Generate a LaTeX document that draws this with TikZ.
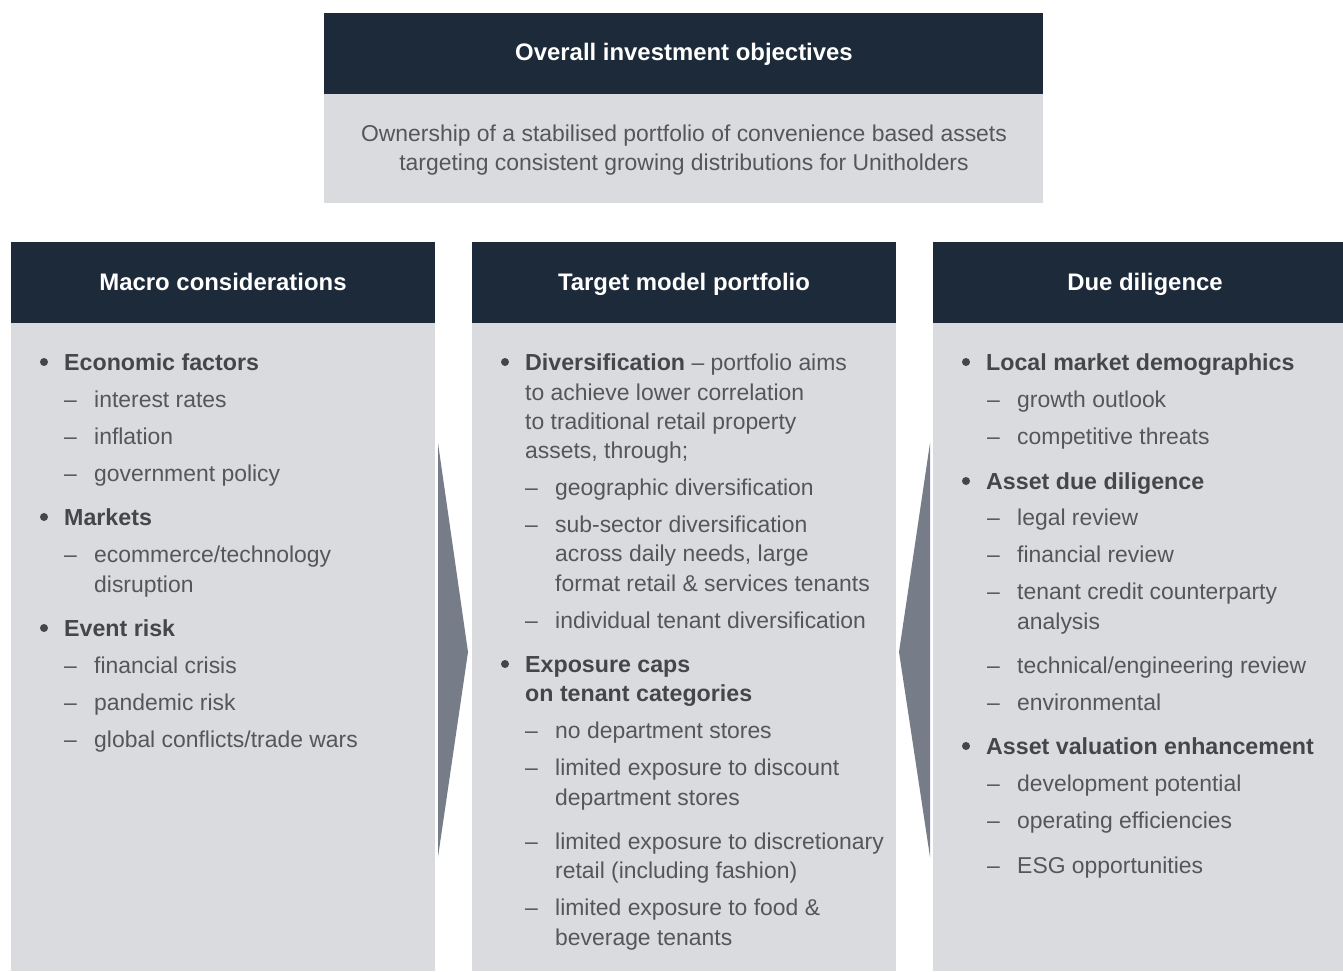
\documentclass[tikz,border=0pt]{standalone}
\usepackage{fontspec}
\setmainfont{Liberation Sans}
\definecolor{navy}{HTML}{1D2A3A}
\definecolor{panel}{HTML}{D9DBDF}
\definecolor{arrowc}{HTML}{767D89}
\definecolor{txtc}{HTML}{56565A}
\definecolor{boldc}{HTML}{45464A}
\newcounter{tlc}
\newcommand\tline[3]{\stepcounter{tlc}\node[txt] (t\arabic{tlc}) at (#1,#2+8) {#3};}
\newcommand\bul[4]{\stepcounter{tlc}\node[bulst] (b\arabic{tlc}) at (#1-20,#2) {};\node[txt,text=boldc,font=\fontsize{23.3}{28}\selectfont\bfseries] (t\arabic{tlc}) at (#1,#2+8) {#4};}
\newcommand\dsh[3]{\stepcounter{tlc}\node[txt] (d\arabic{tlc}) at (#1-30,#2+8) {–};\node[txt] (t\arabic{tlc}) at (#1,#2+8) {#3};}
\begin{document}
\begin{tikzpicture}[x=1bp,y=-1bp,
  txt/.style={anchor=base west,inner sep=0pt,text=txtc,font=\fontsize{23}{28}\selectfont},
  bulst/.style={circle,fill=boldc,inner sep=0pt,minimum size=8bp,anchor=center},
  hdr/.style={anchor=base,inner sep=0pt,text=white,font=\fontsize{24}{29}\selectfont\bfseries},
  head/.style={fill=navy,draw=none},
  body/.style={fill=panel,draw=none}]
\useasboundingbox (0,0) rectangle (1343,971);
% top box
\fill[head] (324,13) rectangle (1043,94);
\fill[body] (324,94) rectangle (1043,203);
\node[hdr] (objh) at (684,60) {Overall investment objectives};
\node[txt,anchor=base] (obj1) at (684,141) {Ownership of a stabilised portfolio of convenience based assets};
\node[txt,anchor=base] (obj2) at (684,170) {targeting consistent growing distributions for Unitholders};
% columns
\fill[head] (11,242) rectangle (435,323);
\fill[body] (11,323) rectangle (435,971);
\fill[head] (472,242) rectangle (896,323);
\fill[body] (472,323) rectangle (896,971);
\fill[head] (933,242) rectangle (1343,323);
\fill[body] (933,323) rectangle (1343,971);
\node[hdr] (h1) at (223,290) {Macro considerations};
\node[hdr] (h2) at (684,290) {Target model portfolio};
\node[hdr] (h3) at (1145,290) {Due diligence};
% arrows
\fill[arrowc] (438,443) -- (468,652) -- (438,857) -- cycle;
\fill[arrowc] (930,443) -- (899,652) -- (930,857) -- cycle;
% left column
\bul{64}{362}{}{Economic factors}
\dsh{94}{399}{interest rates}
\dsh{94}{436}{inflation}
\dsh{94}{473}{government policy}
\bul{64}{517}{}{Markets}
\dsh{94}{554}{ecommerce/technology}
\tline{94}{584}{disruption}
\bul{64}{628}{}{Event risk}
\dsh{94}{665}{financial crisis}
\dsh{94}{702}{pandemic risk}
\dsh{94}{739}{global conflicts/trade wars}
% middle column
\stepcounter{tlc}\node[bulst] (b\arabic{tlc}) at (505,362) {};
\node[txt] (divh) at (525,370) {\textcolor{boldc}{\fontsize{23.3}{28}\selectfont\bfseries Diversification} – portfolio aims};
\tline{525}{392}{to achieve lower correlation}
\tline{525}{421}{to traditional retail property}
\tline{525}{450}{assets, through;}
\dsh{555}{487}{geographic diversification}
\dsh{555}{524}{sub-sector diversification}
\tline{555}{553}{across daily needs, large}
\tline{555}{583}{format retail \& services tenants}
\dsh{555}{620}{individual tenant diversification}
\bul{525}{664}{}{Exposure caps}
\node[txt,text=boldc,font=\fontsize{23.3}{28}\selectfont\bfseries] (exp2) at (525,701) {on tenant categories};
\dsh{555}{730}{no department stores}
\dsh{555}{767}{limited exposure to discount}
\tline{555}{797}{department stores}
\dsh{555}{841}{limited exposure to discretionary}
\tline{555}{870}{retail (including fashion)}
\dsh{555}{907}{limited exposure to food \&}
\tline{555}{937}{beverage tenants}
% right column
\bul{986}{362}{}{Local market demographics}
\dsh{1017}{399}{growth outlook}
\dsh{1017}{436}{competitive threats}
\bul{986}{481}{}{Asset due diligence}
\dsh{1017}{517}{legal review}
\dsh{1017}{554}{financial review}
\dsh{1017}{591}{tenant credit counterparty}
\tline{1017}{621}{analysis}
\dsh{1017}{665}{technical/engineering review}
\dsh{1017}{702}{environmental}
\bul{986}{746}{}{Asset valuation enhancement}
\dsh{1017}{783}{development potential}
\dsh{1017}{820}{operating efficiencies}
\dsh{1017}{865}{ESG opportunities}
\end{tikzpicture}
\end{document}
